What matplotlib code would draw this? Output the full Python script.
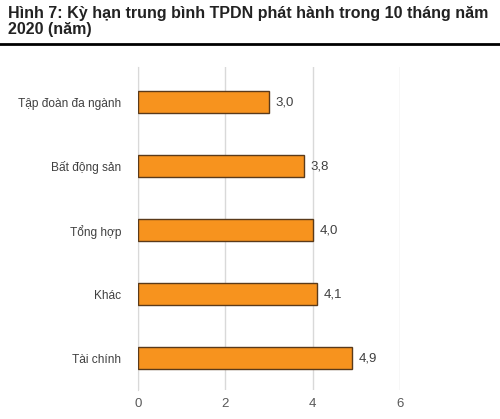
import matplotlib
matplotlib.use("Agg")
import matplotlib.pyplot as plt

# du lieu
categories = ["Tập đoàn đa ngành", "Bất động sản", "Tổng hợp", "Khác", "Tài chính"]
values = [3.0, 3.8, 4.0, 4.1, 4.9]
xticks = [0, 2, 4, 6]

plt.rcParams['font.family'] = ['Liberation Sans', 'DejaVu Sans']

fig = plt.figure(figsize=(5, 4.19), dpi=100)
ax = fig.add_axes([0.276, 0.069, 0.524, 0.771])

pos = list(range(len(categories)))
ax.barh(pos, values, height=0.35, color="#F7931E", edgecolor="#5a3a1a", linewidth=1, zorder=3)
for p, v in zip(pos, values):
    ax.text(v + 0.15, p, f"{v:.1f}".replace(".", ","), va="center", ha="left",
            fontsize=9.5, color="#404040")

ax.set_xlim(0, 6)
ax.set_ylim(4.5, -0.55)
ax.set_xticks(xticks)
ax.set_xticklabels([str(t) for t in xticks], fontsize=9.5, color="#595959")
ax.set_yticks(pos)
ax.set_yticklabels(categories, fontsize=8.6, color="#404040")
ax.tick_params(axis="x", length=0, pad=6)
ax.tick_params(axis="y", length=0, pad=12)
ax.grid(axis="x", color="#d9d9d9", linewidth=1, zorder=0)
for s in ["top", "right", "bottom"]:
    ax.spines[s].set_visible(False)
ax.spines["left"].set_color("#d9d9d9")

fig.text(0.016, 0.985, "Hình 7: Kỳ hạn trung bình TPDN phát hành trong 10 tháng năm\n2020 (năm)",
         fontsize=11.5, fontweight="bold", color="#222222", va="top", ha="left", linespacing=1.05)
fig.add_artist(plt.Line2D([0, 1], [0.895, 0.895], color="black", linewidth=2, transform=fig.transFigure))

fig.savefig("out.png", dpi=100)
